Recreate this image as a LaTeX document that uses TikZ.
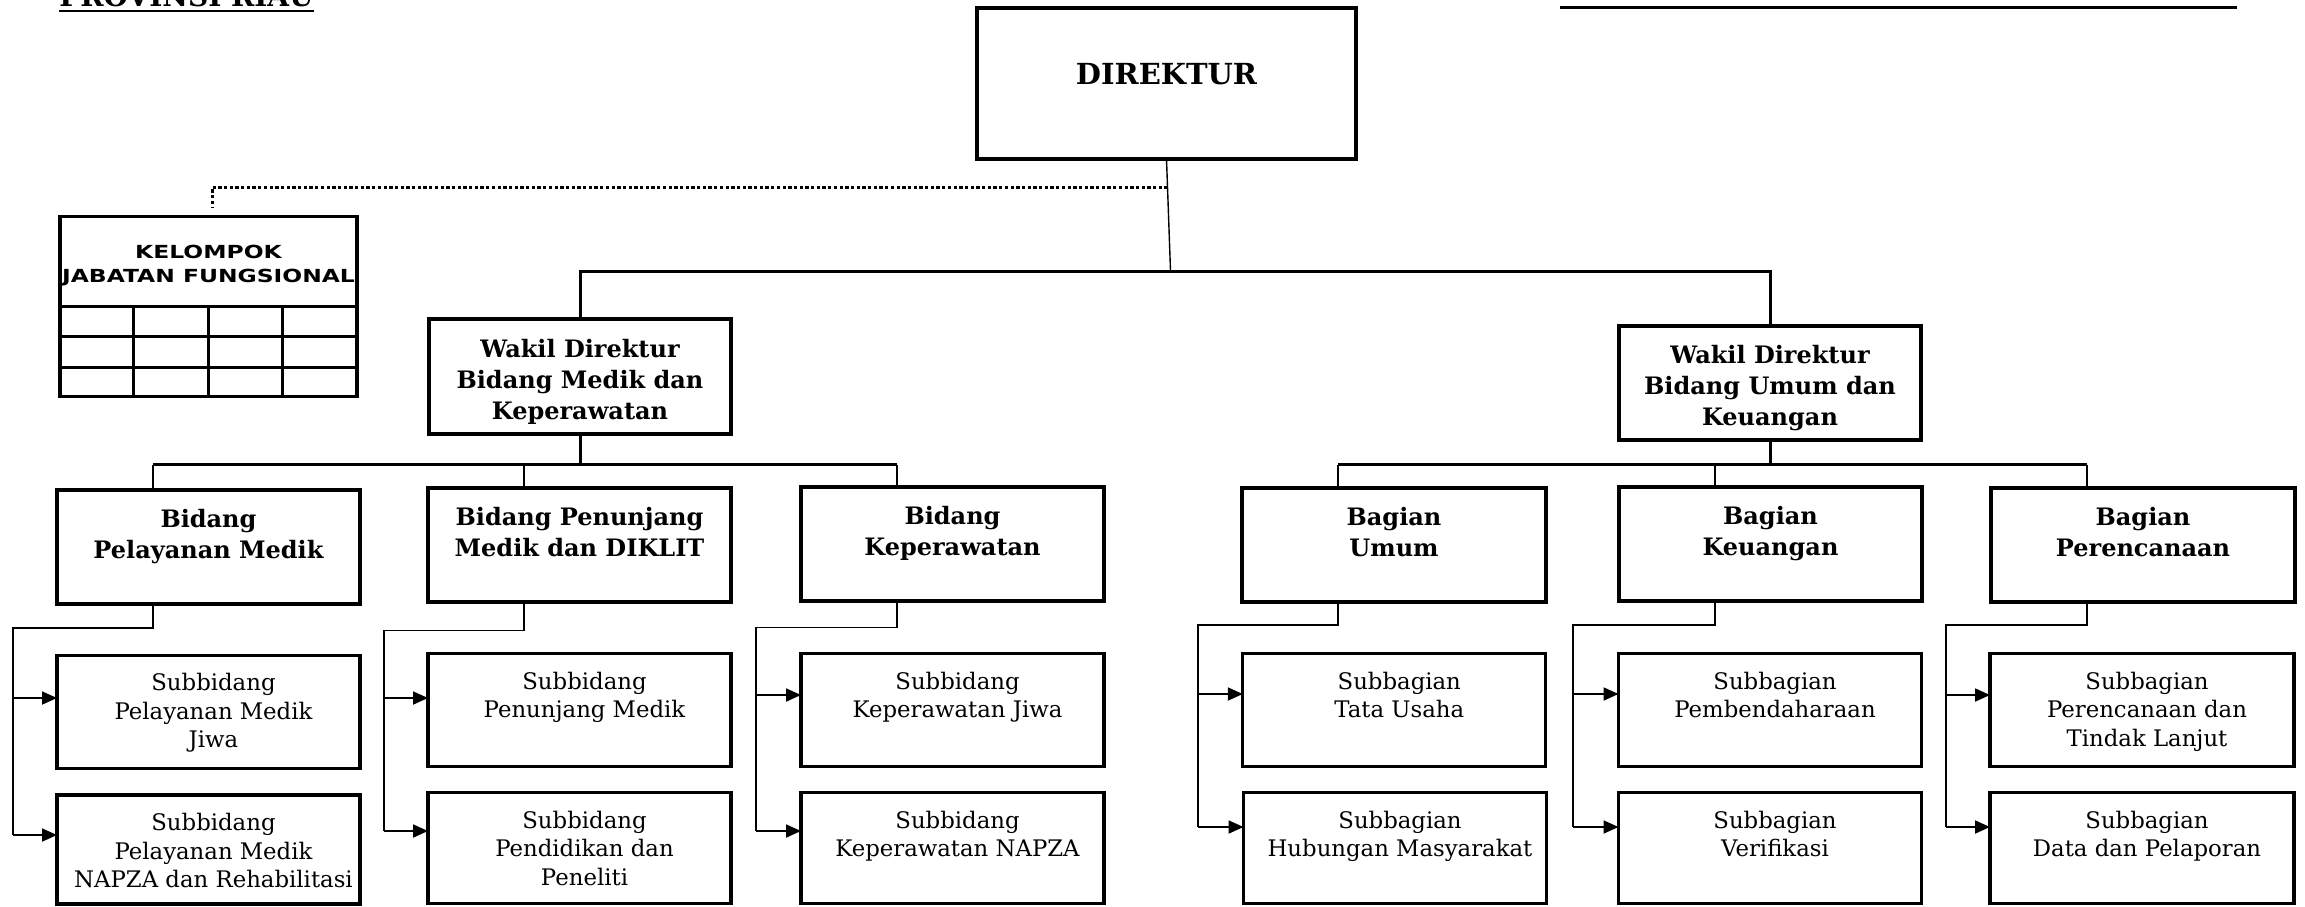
\documentclass[tikz,border=0pt]{standalone}
\usepackage{fontspec}
\setmainfont{DejaVu Serif}
\newfontfamily\kjffont{DejaVu Sans}[FakeStretch=1.3]
\usetikzlibrary{arrows.meta,calc}
\tikzset{
  wh/.style 2 args={minimum width=#1*0.5pt, minimum height=#2*0.5pt},
  box/.style={draw, line width=1.6pt, inner sep=0pt, outer sep=0pt, rectangle},
  bt/.style={font=\bfseries\fontsize{12}{15.5}\selectfont, align=center, inner sep=0pt},
  st/.style={font=\fontsize{11.4}{14.2}\selectfont, align=center, inner sep=0pt},
  barline/.style={line width=1.5pt},
  dropline/.style={line width=0.7pt},
  elbowline/.style={line width=0.75pt},
  arr/.style={line width=0.9pt, -{Triangle[length=7.5pt,width=6.5pt]}},
  dotline/.style={line width=1.5pt, dash pattern=on 1.65pt off 1.2pt},
}
\begin{document}
\begin{tikzpicture}[x=0.5pt, y=-0.5pt]
\useasboundingbox (0,0) rectangle (2305,906);

% header remnants
\node[anchor=base west, font=\bfseries\fontsize{14}{16}\selectfont, inner sep=0pt] (ptitle) at (59,6.5) {PROVINSI RIAU};
\draw[line width=1pt] ([yshift=-2.1pt]ptitle.base west) -- ([yshift=-2.1pt]ptitle.base east);
\coordinate (trl) at (1560,7.5);
\coordinate (trr) at (2237,7.5);
\draw[line width=1.5pt] (trl) -- (trr);

% director
\node[box, wh={379}{151}] (dir) at (1166.5,83.5) {};
\node[font=\bfseries\fontsize{14.5}{17}\selectfont, inner sep=0pt] (t-dir) at ([yshift=4.75pt]dir.center) {DIREKTUR};

% kelompok jabatan fungsional
\node[box, line width=1.75pt, wh={297}{180}] (kjf) at (208.5,306.7) {};
\node[font=\kjffont\bfseries\fontsize{9}{12}\selectfont, align=center, inner sep=0pt] (t-kjf) at (208.5,265.8) {KELOMPOK\\JABATAN FUNGSIONAL};
\draw[line width=1.75pt] (60,306.7) -- (356.7,306.7);
\draw[line width=1.75pt] (60,336.7) -- (356.7,336.7);
\draw[line width=1.75pt] (60,367.3) -- (356.7,367.3);
\foreach \gx in {133.3,208.3,282.7} \draw[line width=1.75pt] (\gx,306.7) -- (\gx,396.7);

% wakil direktur
\node[box, wh={302}{115}] (wl) at (580,376.5) {};
\node[bt] (t-wl) at ([yshift=-2.5pt]wl.center) {Wakil Direktur\\Bidang Medik dan\\Keperawatan};
\node[box, wh={302}{114}] (wr) at (1770,383) {};
\node[bt] (t-wr) at ([yshift=-2.5pt]wr.center) {Wakil Direktur\\Bidang Umum dan\\Keuangan};

% bidang / bagian
\node[box, wh={303}{114}] (bpm) at (208.5,547) {};
\node[box, wh={303}{114}] (bpn) at (579.5,545) {};
\node[box, wh={303}{114}] (bkp) at (952.5,544) {};
\node[box, wh={304}{114}] (bum) at (1394,545) {};
\node[box, wh={303}{114}] (bku) at (1770.5,544) {};
\node[box, wh={304}{114}] (bpr) at (2143,545) {};
\node[bt, anchor=north] (t-bpm) at ([yshift=-9.5pt]bpm.north) {Bidang\\Pelayanan Medik};
\node[bt, anchor=north] (t-bpn) at ([yshift=-9.5pt]bpn.north) {Bidang Penunjang\\Medik dan DIKLIT};
\node[bt, anchor=north] (t-bkp) at ([yshift=-9.5pt]bkp.north) {Bidang\\Keperawatan};
\node[bt, anchor=north] (t-bum) at ([yshift=-9.5pt]bum.north) {Bagian\\Umum};
\node[bt, anchor=north] (t-bku) at ([yshift=-9.5pt]bku.north) {Bagian\\Keuangan};
\node[bt, anchor=north] (t-bpr) at ([yshift=-9.5pt]bpr.north) {Bagian\\Perencanaan};

% sub units, first row
\node[box, wh={303}{113}] (s1a) at (208.5,711.7) {};
\node[box, wh={303}{113}] (s2a) at (579.5,710) {};
\node[box, wh={303}{113}] (s3a) at (952.5,710) {};
\node[box, wh={303}{113}] (s4a) at (1394.3,710) {};
\node[box, wh={303}{113}] (s5a) at (1770,710) {};
\node[box, wh={304}{113}] (s6a) at (2142,710) {};
% sub units, second row
\node[box, wh={303}{109}] (s1b) at (208.5,849.5) {};
\node[box, wh={303}{111}] (s2b) at (579.5,848.3) {};
\node[box, wh={303}{111}] (s3b) at (952.5,848.3) {};
\node[box, wh={303}{111}] (s4b) at (1395,848.3) {};
\node[box, wh={303}{111}] (s5b) at (1770,848.3) {};
\node[box, wh={304}{111}] (s6b) at (2142,848.3) {};

\node[st, anchor=north] (t-s1a) at ([yshift=-9pt,xshift=2.5pt]s1a.north) {Subbidang\\Pelayanan Medik\\Jiwa};
\node[st, anchor=north] (t-s2a) at ([yshift=-9pt,xshift=2.5pt]s2a.north) {Subbidang\\Penunjang Medik};
\node[st, anchor=north] (t-s3a) at ([yshift=-9pt,xshift=2.5pt]s3a.north) {Subbidang\\Keperawatan Jiwa};
\node[st, anchor=north] (t-s4a) at ([yshift=-9pt,xshift=2.5pt]s4a.north) {Subbagian\\Tata Usaha};
\node[st, anchor=north] (t-s5a) at ([yshift=-9pt,xshift=2.5pt]s5a.north) {Subbagian\\Pembendaharaan};
\node[st, anchor=north] (t-s6a) at ([yshift=-9pt,xshift=2.5pt]s6a.north) {Subbagian\\Perencanaan dan\\Tindak Lanjut};
\node[st, anchor=north] (t-s1b) at ([yshift=-9pt,xshift=2.5pt]s1b.north) {Subbidang\\Pelayanan Medik\\NAPZA dan Rehabilitasi};
\node[st, anchor=north] (t-s2b) at ([yshift=-9pt,xshift=2.5pt]s2b.north) {Subbidang\\Pendidikan dan\\Peneliti};
\node[st, anchor=north] (t-s3b) at ([yshift=-9pt,xshift=2.5pt]s3b.north) {Subbidang\\Keperawatan NAPZA};
\node[st, anchor=north] (t-s4b) at ([yshift=-9pt,xshift=2.5pt]s4b.north) {Subbagian\\Hubungan Masyarakat};
\node[st, anchor=north] (t-s5b) at ([yshift=-9pt,xshift=2.5pt]s5b.north) {Subbagian\\Verifikasi};
\node[st, anchor=north] (t-s6b) at ([yshift=-9pt,xshift=2.5pt]s6b.north) {Subbagian\\Data dan Pelaporan};

% director to wakil
\coordinate (mb) at (1170.5,271);
\draw[dropline] (dir.south) -- (mb);
\draw[barline] (wl.north) -- (wl.north |- mb) -- (wr.north |- mb) -- (wr.north);
% dotted link to kelompok
\coordinate (dA) at (1167.7,187.5);
\coordinate (dB) at (212,207);
\draw[dotline] (dA) -| (dB);

% wakil to bidang/bagian
\coordinate (lb) at (580,464.5);
\coordinate (rb) at (1774,464.5);
\foreach \b in {bpm,bpn,bkp,bum,bku,bpr}{
  \coordinate (\b T) at ([xshift=48pt]\b.north west);
  \coordinate (\b B) at ([xshift=48pt]\b.south west);
}
\draw[barline] (wl.south) -- (wl.south |- lb);
\draw[barline] (bpmT |- lb) -- (bkpT |- lb);
\draw[barline] (wr.south) -- (wr.south |- rb);
\draw[barline] (bumT |- rb) -- (bprT |- rb);
\foreach \b in {bpm,bpn,bkp}{\draw[dropline] (\b T |- lb) -- (\b T);}
\foreach \b in {bum,bku,bpr}{\draw[dropline] (\b T |- rb) -- (\b T);}

% bidang/bagian to sub units
\foreach \b/\sa/\sb/\lx/\ey/\ya/\yb in {
  bpm/s1a/s1b/13/628/698/835,
  bpn/s2a/s2b/384/630.5/698/831,
  bkp/s3a/s3b/756/627.5/695/831,
  bum/s4a/s4b/1198/625/694/827,
  bku/s5a/s5b/1573/625/694/827,
  bpr/s6a/s6b/1946/625/695/827}{
  \coordinate (\b E) at (\lx,\ey);
  \coordinate (\b A1) at (\lx,\ya);
  \coordinate (\b A2) at (\lx,\yb);
  \draw[elbowline] (\b B) |- (\b E) -- (\b A2);
  \draw[arr] (\b A1) -- (\b A1 -| \sa.west);
  \draw[arr] (\b A2) -- (\b A2 -| \sb.west);
}
\end{tikzpicture}
\end{document}
